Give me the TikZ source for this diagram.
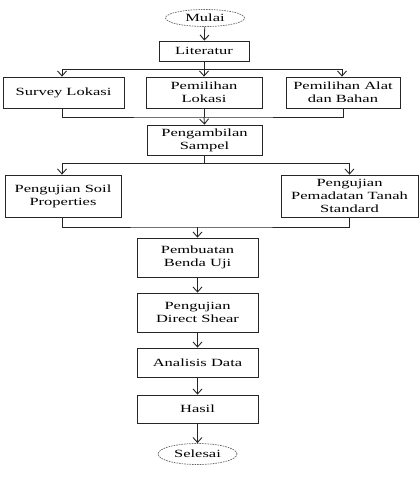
\documentclass[tikz,border=0pt]{standalone}
\usepackage{fontspec}
\setmainfont{Liberation Serif}[FakeStretch=1.5]
\usetikzlibrary{shapes.geometric,arrows.meta}
\begin{document}
\begin{tikzpicture}[x=1pt,y=-1pt,
  every node/.style={font=\fontsize{11}{13}\selectfont, align=center, inner sep=0pt},
  box/.style={draw=black!85, line width=0.8pt, rectangle},
  term/.style={draw=black!60, line width=0.7pt, ellipse, dash pattern=on 1.6pt off 1pt},
  ln/.style={draw=black!85, line width=0.8pt},
  arr/.style={ln, -{Straight Barb[length=5pt,width=9pt,line width=0.9pt]}}]
\useasboundingbox (0,0) rectangle (420,493);
\node[term, minimum width=79pt, minimum height=17pt] (mulai) at (205,18) {Mulai};
\node[box, minimum width=90pt, minimum height=20pt] (lit) at (204,51) {Literatur};
\node[box, minimum width=121pt, minimum height=31pt] (survey) at (63.5,92.5) {Survey Lokasi};
\node[box, minimum width=116pt, minimum height=31pt] (pemlok) at (204,92.5) {Pemilihan\\Lokasi};
\node[box, minimum width=114pt, minimum height=31pt] (alat) at (343,92.5) {Pemilihan Alat\\dan Bahan};
\node[box, minimum width=115pt, minimum height=30pt] (sampel) at (204.5,140) {Pengambilan\\Sampel};
\node[box, minimum width=116pt, minimum height=42pt] (soil) at (63,196) {Pengujian Soil\\Properties};
\node[box, minimum width=137pt, minimum height=42pt] (padat) at (349.5,196) {Pengujian\\Pemadatan Tanah\\Standard};
\node[box, minimum width=121pt, minimum height=39pt] (benda) at (197.5,257.5) {Pembuatan\\Benda Uji};
\node[box, minimum width=121pt, minimum height=39pt] (shear) at (197.5,312.5) {Pengujian\\Direct Shear};
\node[box, minimum width=121pt, minimum height=29pt] (analisis) at (197.5,362.5) {Analisis Data};
\node[box, minimum width=121pt, minimum height=28pt] (hasil) at (197.5,409) {Hasil};
\node[term, minimum width=79pt, minimum height=21pt] (selesai) at (197.5,454) {Selesai};
% coordinates
\coordinate (b1) at (204,69);
\coordinate (b1l) at (62,69);
\coordinate (b1r) at (342,69);
\coordinate (m1) at (204,117);
\coordinate (b2) at (204.5,163);
\coordinate (m2) at (197.5,227);
% connectors
\draw[arr] (mulai) -- (lit);
\draw[ln] (lit.south) -- (b1);
\draw[ln] (b1l) -- (b1r);
\draw[arr] (b1l) -- (b1l |- survey.north);
\draw[arr] (b1) -- (pemlok.north);
\draw[arr] (b1r) -- (b1r |- alat.north);
\draw[ln] (survey.south -| b1l) |- (m1) -| (alat.south);
\draw[ln] (pemlok.south) -- (m1);
\draw[arr] (m1) -- (sampel.north);
\draw[ln] (sampel.south) -- (b2);
\draw[arr] (b2) -| (soil.north -| b1l);
\draw[arr] (b2) -| (padat.north);
\draw[ln] (soil.south -| b1l) |- (m2) -| (padat.south);
\draw[arr] (m2) -- (benda.north);
\draw[arr] (benda) -- (shear);
\draw[arr] (shear) -- (analisis);
\draw[arr] (analisis) -- (hasil);
\draw[arr] (hasil) -- (selesai);
\end{tikzpicture}
\end{document}
